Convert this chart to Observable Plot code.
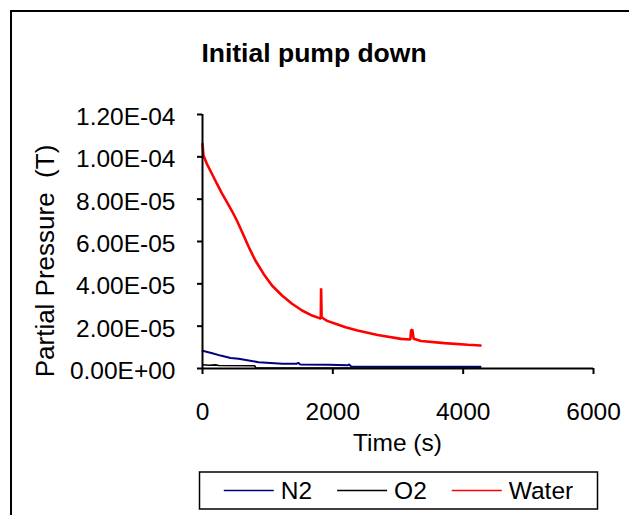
<!DOCTYPE html>
<html>
<head>
<meta charset="utf-8">
<script src="https://cdn.jsdelivr.net/npm/d3@7"></script>
<script src="https://cdn.jsdelivr.net/npm/@observablehq/plot@0.6"></script>
<style>
  html, body { margin: 0; padding: 0; background: #fff; }
  body { width: 629px; height: 515px; overflow: hidden; position: relative; }
  #frame { position: absolute; left: 10px; top: 10px; width: 700px; height: 600px; border: 2px solid #000; box-sizing: border-box; }
  #chart { position: absolute; left: 0; top: 0; }
</style>
</head>
<body>
<div id="frame"></div>
<div id="chart"></div>
<script>
// ---- data ----
const titleText = "Initial pump down";
const xLabel = "Time (s)";
const yLabel = "Partial Pressure  (T)";
const seriesNames = ["N2", "O2", "Water"];
const seriesColors = ["#000080", "#000000", "#ff0000"];
const seriesWidths = [2, 1.6, 2.6];
const xTicks = [0, 2000, 4000, 6000];
const yTicks = [0, 2e-5, 4e-5, 6e-5, 8e-5, 1e-4, 1.2e-4];

const waterT = [0, 15, 67, 144, 221, 298, 375, 452, 529, 606, 708, 811, 938, 1066, 1220, 1374, 1528, 1682, 1795, 1815, 1820, 1828, 1862, 1913, 2041, 2195, 2380, 2688, 3046, 3190, 3200, 3220, 3240, 3354, 3713, 4072, 4266];
const waterV = [1.06e-4, 1.006e-4, 9.67e-5, 9.2e-5, 8.73e-5, 8.27e-5, 7.86e-5, 7.44e-5, 6.98e-5, 6.46e-5, 5.75e-5, 5.1e-5, 4.47e-5, 3.92e-5, 3.45e-5, 3.06e-5, 2.74e-5, 2.5e-5, 2.38e-5, 2.35e-5, 3.79e-5, 2.42e-5, 2.35e-5, 2.25e-5, 2.11e-5, 1.95e-5, 1.8e-5, 1.58e-5, 1.4e-5, 1.37e-5, 1.8e-5, 1.83e-5, 1.4e-5, 1.3e-5, 1.2e-5, 1.12e-5, 1.09e-5];

const n2T = [0, 150, 277, 431, 554, 861, 1226, 1440, 1470, 1500, 1938, 2226, 2250, 2280, 4266];
const n2V = [8.4e-6, 7.2e-6, 6.1e-6, 5.0e-6, 4.6e-6, 3.0e-6, 2.2e-6, 2.2e-6, 2.7e-6, 1.9e-6, 1.75e-6, 1.5e-6, 1.9e-6, 1.0e-6, 0.8e-6];

const o2T = [0, 100, 200, 250, 800, 820, 4266];
const o2V = [1.8e-6, 1.5e-6, 1.7e-6, 1.4e-6, 1.3e-6, 2e-7, 2e-7];

// ---- build table ----
const rows = [
  ...n2T.map((t, i) => ({series: "N2", t, v: n2V[i]})),
  ...o2T.map((t, i) => ({series: "O2", t, v: o2V[i]})),
  ...waterT.map((t, i) => ({series: "Water", t, v: waterV[i]}))
];

const fmtE = d => {
  const [m, e] = d.toExponential(2).split("e");
  const sign = e[0] === "-" ? "-" : "+";
  return m + "E" + sign + String(Math.abs(+e)).padStart(2, "0");
};

const font = "'Liberation Sans', Arial, sans-serif";

const plot = Plot.plot({
  width: 629,
  height: 515,
  marginLeft: 202,
  marginRight: 36,
  marginTop: 114,
  marginBottom: 147,
  style: {fontFamily: font, fontSize: "24.5px", color: "#000", background: "none", overflow: "visible"},
  x: {domain: [0, 6000], label: null},
  y: {domain: [0, 1.2e-4], label: null},
  color: {domain: seriesNames, range: seriesColors},
  marks: [
    Plot.axisX({ticks: xTicks, tickSize: 6, tickPadding: 28, strokeWidth: 2, label: null, tickFormat: d => String(d)}),
    Plot.axisY({ticks: yTicks, tickSize: 5, tickPadding: 22, strokeWidth: 2, label: null, tickFormat: fmtE}),
    ...seriesNames.map((s, i) => Plot.line(rows.filter(r => r.series === s), {
      x: "t", y: "v", stroke: "series", strokeWidth: seriesWidths[i], strokeLinejoin: "miter"
    })),
    Plot.ruleY([0], {strokeWidth: 2}),
    Plot.ruleX([0], {strokeWidth: 2})
  ]
});

document.getElementById("chart").appendChild(plot);

// ---- decorations: title, axis labels, legend ----
const svg = d3.select(plot);
const xs = plot.scale("x");
const cx = (xs.range[0] + xs.range[1]) / 2;

// nudge y tick labels slightly down, as in the reference
const ytl = svg.select('g[aria-label="y-axis tick label"]');
if (!ytl.empty()) ytl.attr("transform", ((ytl.attr("transform") || "") + " translate(0,2.5)").trim());

svg.append("text")
  .attr("x", 314).attr("y", 62)
  .attr("text-anchor", "middle")
  .style("font-family", font).style("font-size", "26.5px").style("font-weight", "bold")
  .text(titleText);

svg.append("text")
  .attr("x", cx).attr("y", 451)
  .attr("text-anchor", "middle")
  .style("font-family", font).style("font-size", "24.5px")
  .text(xLabel);

svg.append("text")
  .attr("transform", `translate(54, 261) rotate(-90)`)
  .attr("text-anchor", "middle")
  .style("font-family", font).style("font-size", "26px")
  .text(yLabel);

// legend
const lg = svg.append("g").attr("text-anchor", "start");
const fontSize = 24.5;
const lineLen = 50, gapText = 7, gapItem = 25;
const tmp = lg.append("text").style("font-family", font).style("font-size", fontSize + "px");
const widths = seriesNames.map(n => { tmp.text(n); return tmp.node().getComputedTextLength(); });
tmp.remove();
const total = seriesNames.length * (lineLen + gapText) + d3.sum(widths) + gapItem * (seriesNames.length - 1);
const boxW = 398, boxH = 37, boxY = 472;
const boxX = cx + 1 - boxW / 2;
lg.append("rect").attr("x", boxX).attr("y", boxY).attr("width", boxW).attr("height", boxH)
  .attr("fill", "#fff").attr("stroke", "#000").attr("stroke-width", 1.5);
let px = cx + 1 - total / 2;
const midY = boxY + boxH / 2;
seriesNames.forEach((n, i) => {
  lg.append("line").attr("x1", px).attr("x2", px + lineLen).attr("y1", midY).attr("y2", midY)
    .attr("stroke", plot.scale("color").apply(n)).attr("stroke-width", 1.5);
  px += lineLen + gapText;
  lg.append("text").attr("x", px).attr("y", midY).attr("dy", "0.36em")
    .attr("text-anchor", "start")
    .style("font-family", font).style("font-size", fontSize + "px").text(n);
  px += widths[i] + gapItem;
});
</script>
</body>
</html>
